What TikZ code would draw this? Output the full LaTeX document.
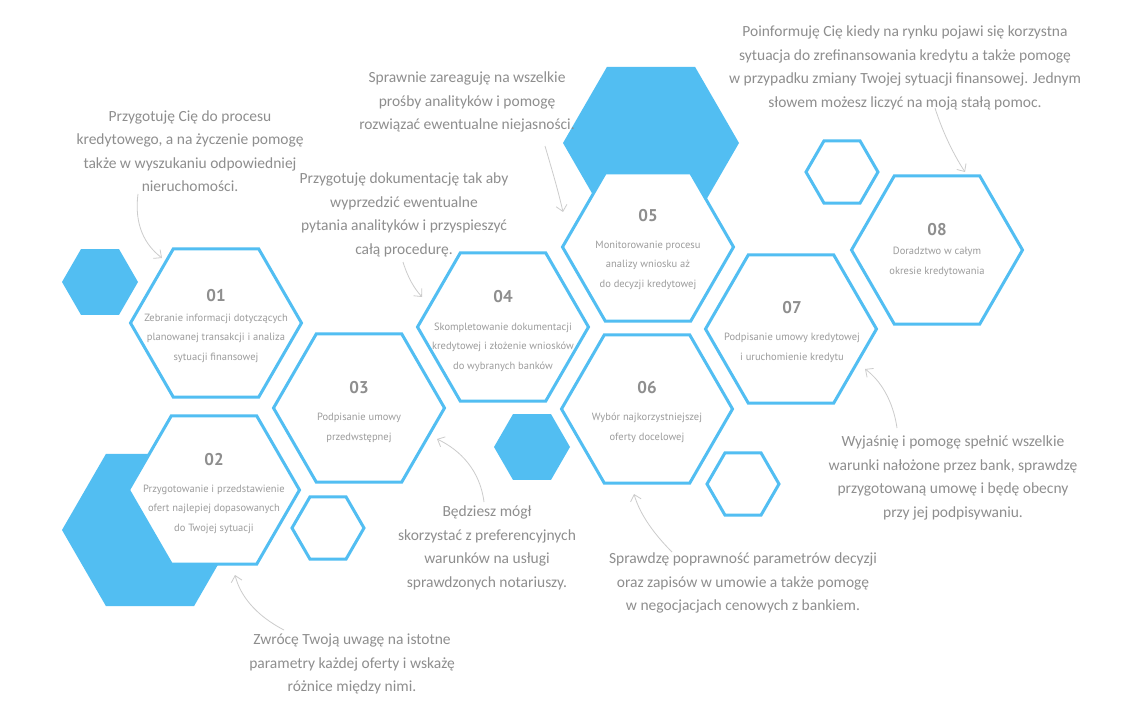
\documentclass[tikz,border=0pt]{standalone}
\usepackage{fontspec}
\setmainfont{PT Sans}
\newfontfamily\handfont{Carlito}
\usetikzlibrary{arrows.meta, positioning, shapes.geometric}
\definecolor{hexBlue}{HTML}{52BEF2}
\definecolor{numGrey}{HTML}{8E8E8E}
\definecolor{textGrey}{HTML}{9C9C9C}
\definecolor{noteGrey}{HTML}{8E8E8E}
\tikzset{
    hex node/.style={regular polygon, regular polygon sides=6, draw=hexBlue, line width=3pt, fill=white, inner sep=0pt, minimum size=171pt},
    small hex/.style={hex node, minimum size=72pt},
    filled hex/.style={regular polygon, regular polygon sides=6, fill=hexBlue, draw=none, inner sep=0pt, minimum size=176pt},
    step num/.style={font=\bfseries\fontsize{17}{17}\selectfont, text=numGrey},
    step text/.style={align=center, font=\fontsize{10.5}{19.5}\selectfont, text=textGrey},
    note node/.style={align=center, font=\handfont\fontsize{15.5}{23.5}\selectfont, text=noteGrey},
    arrow style/.style={-{Straight Barb[length=6pt, width=11pt]}, line width=0.8pt, noteGrey!45},
}
\begin{document}
\begin{tikzpicture}[x=1pt, y=-1pt]
    \fill[white] (0,0) rectangle (1135,714);
    \useasboundingbox (0,0) rectangle (1135,714);

    % filled hexagons in the background
    \node[filled hex] (big top) at (651,143) {};
    \node[filled hex] (big left) at (150,530) {};
    \node[filled hex, minimum size=76pt] (dot left) at (100,282) {};
    \node[filled hex, minimum size=76pt] (dot mid) at (532,447) {};

    % small empty hexagons
    \node[small hex] (ring a) at (328,528) {};
    \node[small hex] (ring b) at (743,484) {};
    \node[small hex] (ring c) at (842,172) {};

    % steps
    \node[hex node] (h1) at (216,323) {};
    \node[hex node] (h2) at (214,490) {};
    \node[hex node] (h3) at (359,408) {};
    \node[hex node] (h4) at (503,327) {};
    \node[hex node] (h5) at (648,247) {};
    \node[hex node] (h6) at (647,409) {};
    \node[hex node] (h7) at (791,329) {};
    \node[hex node] (h8) at (937,250) {};

    \node[step num] (n1) at (216,296) {01};
    \node[step text] (d1) at (216,338) {Zebranie informacji dotyczących\\planowanej transakcji i analiza\\sytuacji finansowej};
    \node[step num] (n2) at (214,460) {02};
    \node[step text] (d2) at (214,509) {Przygotowanie i przedstawienie\\ofert najlepiej dopasowanych\\do Twojej sytuacji};
    \node[step num] (n3) at (359,388) {03};
    \node[step text] (d3) at (359,428) {Podpisanie umowy\\przedwstępnej};
    \node[step num] (n4) at (503,297) {04};
    \node[step text] (d4) at (503,347) {Skompletowanie dokumentacji\\kredytowej i złożenie wniosków\\do wybranych banków};
    \node[step num] (n5) at (648,216) {05};
    \node[step text] (d5) at (648,265) {Monitorowanie procesu\\analizy wniosku aż\\do decyzji kredytowej};
    \node[step num] (n6) at (647,388) {06};
    \node[step text] (d6) at (647,428) {Wybór najkorzystniejszej\\oferty docelowej};
    \node[step num] (n7) at (792,308) {07};
    \node[step text] (d7) at (792,348) {Podpisanie umowy kredytowej\\i uruchomienie kredytu};
    \node[step num] (n8) at (937,230) {08};
    \node[step text] (d8) at (937,262) {Doradztwo w całym\\okresie kredytowania};

    % notes
    \node[note node] (a1) at (190,151) {Przygotuję Cię do procesu\\kredytowego, a na życzenie pomogę\\także w wyszukaniu odpowiedniej\\nieruchomości.};
    \node[note node] (a2) at (404,215) {Przygotuję dokumentację tak aby\\wyprzedzić ewentualne\\pytania analityków i przyspieszyć\\całą procedurę.};
    \node[note node] (a3) at (467,102) {Sprawnie zareaguję na wszelkie\\prośby analityków i pomogę\\rozwiązać ewentualne niejasności.};
    \node[note node] (a4) at (905,68) {Poinformuję Cię kiedy na rynku pojawi się korzystna\\sytuacja do zrefinansowania kredytu a także pomogę\\w przypadku zmiany Twojej sytuacji finansowej. Jednym\\słowem możesz liczyć na moją stałą pomoc.};
    \node[note node] (a5) at (953,478) {Wyjaśnię i pomogę spełnić wszelkie\\warunki nałożone przez bank, sprawdzę\\przygotowaną umowę i będę obecny\\przy jej podpisywaniu.};
    \node[note node] (a6) at (743,583) {Sprawdzę poprawność parametrów decyzji\\oraz zapisów w umowie a także pomogę\\w negocjacjach cenowych z bankiem.};
    \node[note node] (a7) at (487,548) {Będziesz mógł\\skorzystać z preferencyjnych\\warunków na usługi\\sprawdzonych notariuszy.};
    \node[note node] (a8) at (352,664) {Zwrócę Twoją uwagę na istotne\\parametry każdej oferty i wskażę\\różnice między nimi.};

    % arrow ends
    \coordinate (s1) at (138,194);  \coordinate (t1) at (162,258);
    \coordinate (s2) at (403,262);  \coordinate (t2) at (422,297);
    \coordinate (s3) at (545,146);  \coordinate (t3) at (563,212);
    \coordinate (s4) at (935,108);  \coordinate (t4) at (965,172);
    \coordinate (s5) at (897,428);  \coordinate (t5) at (865,369);
    \coordinate (s6) at (672,552);  \coordinate (t6) at (634,494);
    \coordinate (s7) at (484,502);  \coordinate (t7) at (437,439);
    \coordinate (s8) at (284,630);  \coordinate (t8) at (235,575);

    \draw[arrow style] (s1) .. controls (134,225) and (145,245) .. (t1);
    \draw[arrow style] (s2) .. controls (408,278) and (414,288) .. (t2);
    \draw[arrow style] (s3) .. controls (552,170) and (558,190) .. (t3);
    \draw[arrow style] (s4) .. controls (942,130) and (952,152) .. (t4);
    \draw[arrow style] (s5) .. controls (893,400) and (880,380) .. (t5);
    \draw[arrow style] (s6) .. controls (655,535) and (640,515) .. (t6);
    \draw[arrow style] (s7) .. controls (480,470) and (460,450) .. (t7);
    \draw[arrow style] (s8) .. controls (255,615) and (240,595) .. (t8);
\end{tikzpicture}
\end{document}
